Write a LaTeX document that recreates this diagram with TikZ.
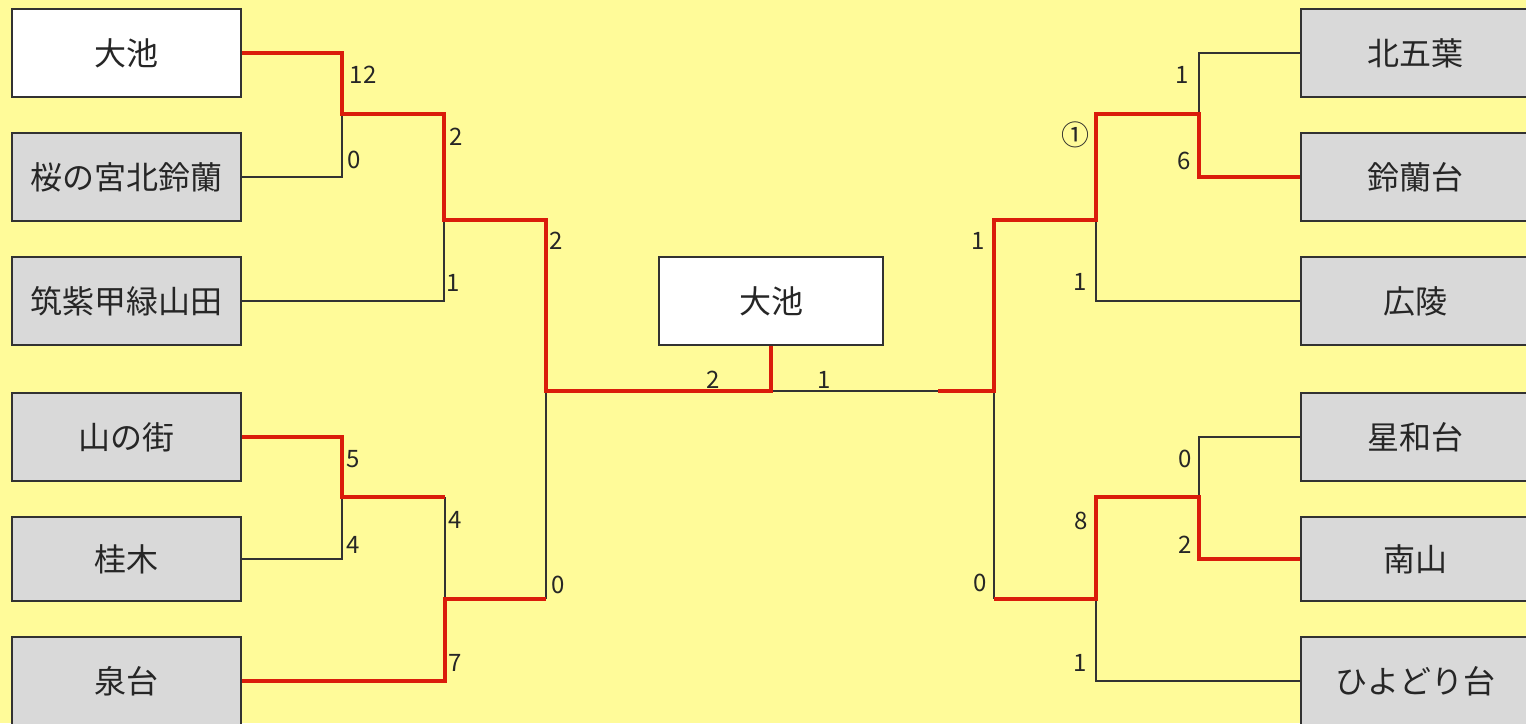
\documentclass[tikz,border=0pt]{standalone}
\usepackage{fontspec}
\newfontfamily\jp{Noto Sans CJK JP}
\definecolor{bg}{RGB}{255,251,153}
\definecolor{boxgray}{RGB}{217,217,217}
\definecolor{edge}{RGB}{50,50,50}
\definecolor{win}{RGB}{218,28,10}
\begin{document}
\begin{tikzpicture}[x=1pt,y=-1pt,
  team/.style={draw=edge,line width=1.6pt,fill=boxgray,minimum width=229pt,minimum height=88pt,inner sep=0pt,font=\jp\fontsize{32}{32}\selectfont,text=black!85},
  champ/.style={team,fill=white},
  lose/.style={draw=edge,line width=1.5pt},
  wins/.style={draw=win,line width=3.4pt,line join=miter},
  score/.style={inner sep=0pt,font=\jp\fontsize{24}{24}\selectfont,text=black!85}]
\fill[bg] (0,0) rectangle (1526,723);
\useasboundingbox (0,0) rectangle (1526,723);
% left teams
\node[champ] (L1) at (126.5,53) {大池};
\node[team]  (L2) at (126.5,177) {桜の宮北鈴蘭};
\node[team]  (L3) at (126.5,301) {筑紫甲緑山田};
\node[team]  (L4) at (126.5,437) {山の街};
\node[team,minimum height=84pt] (L5) at (126.5,559) {桂木};
\node[team]  (L6) at (126.5,681) {泉台};
% right teams
\node[team]  (R1) at (1415.5,53) {北五葉};
\node[team]  (R2) at (1415.5,177) {鈴蘭台};
\node[team]  (R3) at (1415.5,301) {広陵};
\node[team]  (R4) at (1415.5,437) {星和台};
\node[team,minimum height=84pt] (R5) at (1415.5,559) {南山};
\node[team]  (R6) at (1415.5,681) {ひよどり台};
% champion
\node[champ,minimum width=224pt] (C) at (771,301) {大池};
% junctions
\coordinate (a1) at (342,53);  \coordinate (a2) at (342,114); \coordinate (a3) at (342,177);
\coordinate (b1) at (444,114); \coordinate (b2) at (444,220); \coordinate (b3) at (444,301);
\coordinate (c1) at (546,220); \coordinate (c2) at (546,391); \coordinate (c3) at (546,599);
\coordinate (d1) at (342,437); \coordinate (d2) at (342,497); \coordinate (d3) at (342,559);
\coordinate (e1) at (445,497); \coordinate (e2) at (445,599); \coordinate (e3) at (445,681);
\coordinate (m)  at (771,391); \coordinate (mr) at (938,391);
\coordinate (f1) at (994,220); \coordinate (f2) at (994,391); \coordinate (f3) at (994,599);
\coordinate (g1) at (1096,114); \coordinate (g2) at (1096,220); \coordinate (g3) at (1096,301);
\coordinate (h1) at (1199,53); \coordinate (h2) at (1199,114); \coordinate (h3) at (1199,177);
\coordinate (i1) at (1096,497); \coordinate (i2) at (1096,599); \coordinate (i3) at (1096,681);
\coordinate (j1) at (1199,437); \coordinate (j2) at (1199,497); \coordinate (j3) at (1199,559);
% losing lines
\draw[lose] (L2.east) -- (a3) -- (a2);
\draw[lose] (L3.east) -- (b3) -- (b2);
\draw[lose] (L5.east) -- (d3) -- (d2);
\draw[lose] (e1) -- (e2);
\draw[lose] (c2) -- (c3);
\draw[lose] (m) -- (mr);
\draw[lose] (f2) -- (f3);
\draw[lose] (R1.west) -- (h1) -- (h2);
\draw[lose] (R3.west) -- (g3) -- (g2);
\draw[lose] (R4.west) -- (j1) -- (j2);
\draw[lose] (R6.west) -- (i3) -- (i2);
% winning lines
\draw[wins] (L1.east) -- (a1) -- (a2) -- (b1) -- (b2) -- (c1) -- (c2) -- (m) -- (C.south);
\draw[wins] (L4.east) -- (d1) -- (d2) -- (e1);
\draw[wins] (L6.east) -- (e3) -- (e2) -- (c3);
\draw[wins] (mr) -- (f2) -- (f1) -- (g2) -- (g1) -- (h2) -- (h3) -- (R2.west);
\draw[wins] (R5.west) -- (j3) -- (j2) -- (i1) -- (i2) -- (f3);
% scores left
\node[score] (s1) at (363,75) {12};
\node[score] (s2) at (354,160) {0};
\node[score] (s3) at (456,137) {2};
\node[score] (s4) at (453,283) {1};
\node[score] (s5) at (556,241) {2};
\node[score] (s6) at (353,459) {5};
\node[score] (s7) at (353,545) {4};
\node[score] (s8) at (455,520) {4};
\node[score] (s9) at (455,663) {7};
\node[score] (s10) at (558,585) {0};
% final scores
\node[score] (s11) at (713,380) {2};
\node[score] (s12) at (824,380) {1};
% scores right
\node[score] (t1) at (1182,75) {1};
\node[score] (t2) at (1184,161) {6};
\node[score,font=\jp\fontsize{28}{28}\selectfont] (t3) at (1075,135) {①};
\node[score] (t4) at (1080,282) {1};
\node[score] (t5) at (978,241) {1};
\node[score] (t6) at (1185,459) {0};
\node[score] (t7) at (1185,545) {2};
\node[score] (t8) at (1081,521) {8};
\node[score] (t9) at (1080,663) {1};
\node[score] (t10) at (980,583) {0};
\end{tikzpicture}
\end{document}
